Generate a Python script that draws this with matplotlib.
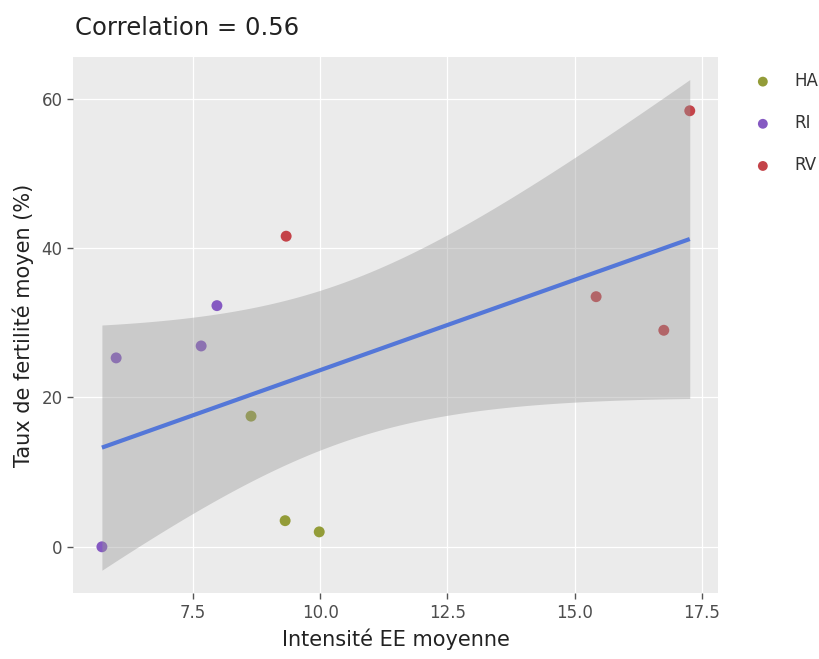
import numpy as np
import matplotlib.pyplot as plt

# data
groups = ['HA', 'RI', 'RV']
colors = {'HA': '#939c38', 'RI': '#8559c2', 'RV': '#c44349'}
x_HA = [8.64, 9.31, 9.98]
y_HA = [17.5, 3.5, 2.0]
x_RI = [5.71, 5.99, 7.66, 7.97]
y_RI = [0.0, 25.3, 26.9, 32.3]
x_RV = [9.33, 15.42, 16.75, 17.26]
y_RV = [41.6, 33.5, 29.0, 58.4]
xs = {'HA': x_HA, 'RI': x_RI, 'RV': x_RV}
ys = {'HA': y_HA, 'RI': y_RI, 'RV': y_RV}

x_all = np.array(x_HA + x_RI + x_RV)
y_all = np.array(y_HA + y_RI + y_RV)

# linear fit with 95% confidence band (like geom_smooth(method='lm'))
n = len(x_all)
slope, intercept = np.polyfit(x_all, y_all, 1)
resid = y_all - (slope * x_all + intercept)
s = np.sqrt(np.sum(resid ** 2) / (n - 2))
t_crit = 2.262  # t(0.975, df=9)
xg = np.linspace(x_all.min(), x_all.max(), 100)
yg = slope * xg + intercept
se = s * np.sqrt(1 / n + (xg - x_all.mean()) ** 2 / np.sum((x_all - x_all.mean()) ** 2))
r = np.corrcoef(x_all, y_all)[0, 1]

fig = plt.figure(figsize=(8.19, 6.59), dpi=100)
ax = fig.add_axes([0.089, 0.100, 0.788, 0.8135])
ax.set_facecolor('#ebebeb')

for g in groups:
    ax.scatter(xs[g], ys[g], s=62, color=colors[g], edgecolor='none', label=g, zorder=2)

ax.fill_between(xg, yg - t_crit * se, yg + t_crit * se, color='#999999', alpha=0.4,
                linewidth=0, zorder=3)
ax.plot(xg, yg, color='#5477d8', linewidth=3, zorder=4, solid_capstyle='butt')

ax.set_xlim(5.14, 17.82)
ax.set_ylim(-6.2, 65.6)
ax.set_xticks([7.5, 10.0, 12.5, 15.0, 17.5])
ax.set_xticklabels(['7.5', '10.0', '12.5', '15.0', '17.5'])
ax.set_yticks([0, 20, 40, 60])
ax.grid(True, color='white', linewidth=0.9)
ax.set_axisbelow(True)
for sp in ax.spines.values():
    sp.set_visible(False)
ax.tick_params(colors='#555555', labelsize=12, length=4, width=1, labelcolor='#4d4d4d')

ax.set_xlabel('Intensité EE moyenne', fontsize=15, color='#222222', labelpad=5)
ax.set_ylabel('Taux de fertilité moyen (%)', fontsize=15, color='#222222', labelpad=5)
fig.text(0.091, 0.975, f'Correlation = {r:.2f}', fontsize=17.5, color='#222222', va='top', ha='left')

leg = ax.legend(loc='upper left', bbox_to_anchor=(1.02, 1.0), frameon=False, fontsize=12,
                handletextpad=0.9, labelspacing=1.45, markerscale=0.9)
for t in leg.get_texts():
    t.set_color('#333333')

plt.savefig('out.png', dpi=100)
